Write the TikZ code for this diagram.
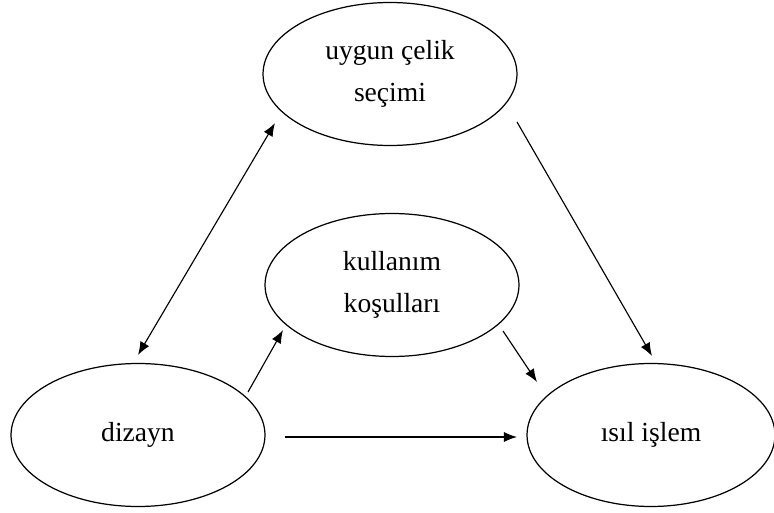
\documentclass[tikz,border=0pt]{standalone}
\usepackage{fontspec}
\setmainfont{Liberation Serif}
\usepackage{tikz}
\usetikzlibrary{shapes.geometric,arrows.meta}

\begin{document}
\begin{tikzpicture}[x=0.02cm,y=-0.02cm,
    oval/.style={draw,ellipse,line width=0.7pt,inner sep=0pt,
      minimum width=5.08cm,minimum height=2.86cm,align=center,
      font=\fontsize{15.7}{23.7}\selectfont},
    >={Latex[length=7.5pt,width=5.8pt]}]
      \useasboundingbox (0,0) rectangle (774,513);

      \node[oval] (celik) at (390,74) {uygun çelik\\seçimi};
      \node[oval] (kosul) at (392,285) {kullanım\\koşulları};
      \node[oval] (dizayn) at (138,435) {dizayn};
      \node[oval,minimum width=4.96cm] (isil) at (651,435) {ısıl işlem};

      \coordinate (c1) at (275,123);
      \coordinate (d1) at (138,355);
      \coordinate (c2) at (517,122);
      \coordinate (i1) at (652,356);
      \coordinate (k1) at (503,331);
      \coordinate (i2) at (537,382);
      \coordinate (d2) at (248,392);
      \coordinate (k2) at (283,330);
      \coordinate (d3) at (285,437);
      \coordinate (i3) at (517,437);

      \path[<->,line width=0.65pt] (c1) edge (d1);
      \path[->,line width=0.65pt] (c2) edge (i1) (k1) edge (i2)
      (d2) edge (k2) (d3) edge (i3);
    \end{tikzpicture}
\end{document}
